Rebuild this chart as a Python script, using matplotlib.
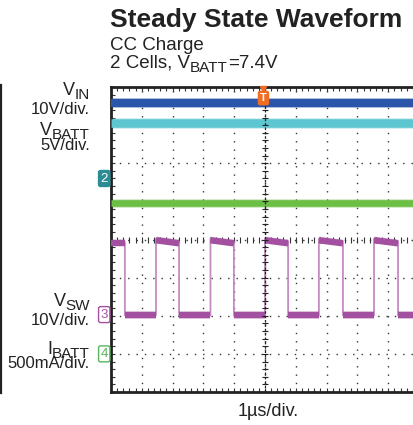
# oscilloscope capture: steady state waveform
import numpy as np
import matplotlib.pyplot as plt
from matplotlib.lines import Line2D

plt.rcParams['font.family'] = ['Liberation Sans', 'DejaVu Sans']

# time axis in us (1 us/div), levels in scope divisions from the bottom
t_min, t_max = -5, 5
n_div = 8
vin_level = 7.58
vbatt_level = 7.05
ibatt_level = 4.97
vsw_low = 2.01
vsw_high_start = 4.02
vsw_high_end = 3.94
vsw_rising = [-3.54, -1.77, 0.0, 1.75, 3.54]
vsw_falling = [-4.55, -2.79, -1.01, 0.75, 2.53, 4.32]
ch_names = ['2', '3', '4']
ch_ground = [5.6, 2.03, 1.0]
trigger_time = 0.0

# colours
c_vin = '#2a55a8'
c_vbatt = '#5ec6d0'
c_ibatt = '#6cbf45'
c_vsw = '#a2509f'
c_vsw_edge = '#c58cc4'
c_trig = '#f26d22'
c_ch = ['#2b8c93', '#a2509f', '#58b55c']
c_text = '#222222'

W, H = 414, 425
fig = plt.figure(figsize=(W / 100, H / 100), dpi=100)
ax = fig.add_axes([111 / W, 33 / H, 308 / W, 305 / H])
ax.set_xlim(t_min, t_max)
ax.set_ylim(0, n_div)

# grid
ax.set_xticks(np.arange(t_min, t_max + 1, 1))
ax.set_yticks(np.arange(0, n_div + 1, 1))
ax.set_xticks(np.arange(t_min, t_max + 0.01, 0.2), minor=True)
ax.set_yticks(np.arange(0, n_div + 0.01, 0.2), minor=True)
ax.tick_params(which='both', direction='in', length=3, width=0.8, color='#333333',
               labelleft=False, labelbottom=False, top=True, right=False)
ax.grid(which='major', linestyle=(0, (1, 5)), color='#333333', linewidth=1.0)
for s in ['left', 'top', 'bottom']:
    ax.spines[s].set_linewidth(2.0)
    ax.spines[s].set_color(c_text)
ax.spines['right'].set_visible(False)

# centre lines with small ticks
ax.axvline(trigger_time, color=c_text, lw=0.9, ls=(0, (2, 1.5)), zorder=4)
yt = np.arange(0, n_div + 0.01, 0.2)
ax.plot(np.full_like(yt, trigger_time), yt, ls='none', marker='_', ms=4, mew=0.8,
        color=c_text, zorder=4)
xt = np.arange(t_min, t_max + 0.01, 0.2)
ax.plot(xt, np.full_like(xt, n_div / 2), ls='none', marker='|', ms=4, mew=0.8,
        color='#333333', zorder=1)

# flat traces
for lvl, col, lw in [(vin_level, c_vin, 5.8), (vbatt_level, c_vbatt, 6.2),
                     (ibatt_level, c_ibatt, 4.8)]:
    ax.plot([t_min, t_max], [lvl, lvl], color=col, lw=lw + 1.4, alpha=0.35,
            solid_capstyle='butt', zorder=2)
    ax.plot([t_min, t_max], [lvl, lvl], color=col, lw=lw, solid_capstyle='butt', zorder=3)

# switch node waveform: thin edges + thick plateaus
xs, ys = [t_min], [vsw_high_end]
starts = [t_min] + vsw_rising
for r, f in zip(starts, vsw_falling):
    if r > t_min:
        xs += [r, r]
        ys += [vsw_low, vsw_high_start]
    xs += [f, f]
    ys += [vsw_high_end, vsw_low]
xs.append(t_max)
ys.append(vsw_low)
ax.plot(xs, ys, color=c_vsw_edge, lw=1.3, zorder=3)

for r, f in zip(starts, vsw_falling):
    y0 = vsw_high_start if r > t_min else vsw_high_end
    ax.plot([r, f], [y0, vsw_high_end], color=c_vsw, lw=3.0, alpha=0.4,
            solid_capstyle='butt', zorder=3)
    ax.plot([r, f], [y0 - 0.04, vsw_high_end - 0.04], color=c_vsw, lw=4.6,
            solid_capstyle='butt', zorder=3)
ends = vsw_rising + [t_max]
for f, r in zip(vsw_falling, ends):
    ax.plot([f, r], [vsw_low, vsw_low], color=c_vsw, lw=5.6, alpha=0.35,
            solid_capstyle='butt', zorder=3)
    ax.plot([f, r], [vsw_low, vsw_low], color=c_vsw, lw=4.4, solid_capstyle='butt', zorder=3)

# trigger marker
ax.text(trigger_time - 0.05, 7.71, 'T', color='white', fontsize=8, fontweight='bold',
        ha='center', va='center', zorder=6,
        bbox=dict(boxstyle='round,pad=0.15', fc=c_trig, ec=c_trig))
ax.plot([trigger_time - 0.05], [7.95], marker='v', ms=5, color=c_trig, zorder=6, clip_on=False)

# channel markers
tr = ax.get_yaxis_transform()
for name, lvl, col in zip(ch_names, ch_ground, c_ch):
    filled = name == '2'
    ax.text(-0.022, lvl, name, transform=tr, fontsize=9.5,
            color='white' if filled else col, ha='center', va='center', clip_on=False,
            bbox=dict(boxstyle='round,pad=0.15', fc=col if filled else 'white', ec=col, lw=1.0))

renderer = fig.canvas.get_renderer()


def sub_label(x_right, y_base, main, sub, size=13, sub_size=11):
    # right aligned "main" letter followed by a lowered subscript
    t = fig.text(x_right, y_base - 4 / H, sub, ha='right', va='baseline', fontsize=sub_size,
                 color=c_text)
    x0 = t.get_window_extent(renderer).x0 / (W)
    fig.text(x0, y_base, main, ha='right', va='baseline', fontsize=size, color=c_text)


# channel labels
lx = 90 / W
sub_label(lx, 1 - 95 / H, 'V', 'IN')
fig.text(lx, 1 - 114 / H, '10V/div.', ha='right', va='baseline', fontsize=12, color=c_text)
sub_label(lx, 1 - 135 / H, 'V', 'BATT')
fig.text(lx, 1 - 150 / H, '5V/div.', ha='right', va='baseline', fontsize=12, color=c_text)
sub_label(lx, 1 - 306 / H, 'V', 'SW')
fig.text(lx, 1 - 325 / H, '10V/div.', ha='right', va='baseline', fontsize=12, color=c_text)
sub_label(lx, 1 - 354 / H, 'I', 'BATT')
fig.text(lx, 1 - 368 / H, '500mA/div.', ha='right', va='baseline', fontsize=12, color=c_text)

# titles
fig.text(110 / W, 1 - 27 / H, 'Steady State Waveform', fontsize=19, fontweight='bold',
         color=c_text, va='baseline')
fig.text(110 / W, 1 - 50 / H, 'CC Charge', fontsize=13.5, color=c_text, va='baseline')
x = 110 / W
for piece, dy, size in [('2 Cells, V', 0, 13.5), ('BATT', -4, 11), ('=7.4V', 0, 13.5)]:
    t = fig.text(x, 1 - (68 - dy) / H, piece, fontsize=size, color=c_text, va='baseline')
    x = t.get_window_extent(renderer).x1 / W
fig.text(268 / W, 1 - 416 / H, '1µs/div.', fontsize=13, ha='center', va='baseline',
         color=c_text)

# left border line
fig.add_artist(Line2D([1.5 / W, 1.5 / W], [1 - 393 / H, 1 - 85 / H], color=c_text, lw=1.6))

fig.savefig('out.png', dpi=100)
